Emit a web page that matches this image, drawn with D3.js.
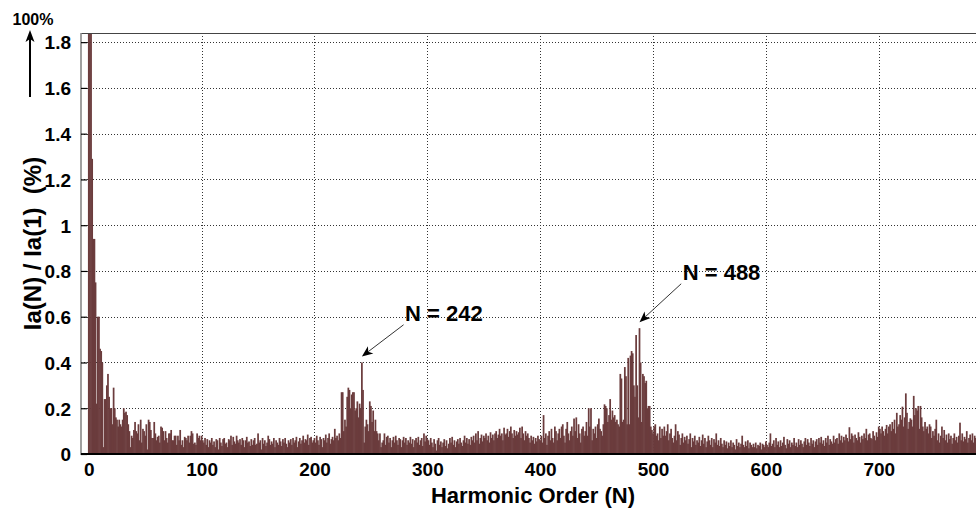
<!DOCTYPE html>
<html>
<head>
<meta charset="utf-8">
<script src="https://cdn.jsdelivr.net/npm/d3@7"></script>
<style>
  body { margin: 0; background: #fff; }
  text { font-family: "Liberation Sans", Arial, Helvetica, sans-serif; font-weight: bold; fill: #000; }
</style>
</head>
<body>
<svg id="chart" width="976" height="509"></svg>
<script>
// Harmonic spectrum of phase current Ia, in % of the fundamental, indexed by harmonic order N (0, 1, 2, ...)
const amplitude = [
  2.3, 100, 1.95, 1.29, 0.94, 0.94, 0.75, 0.22, 0.60, 0.60,
  0.46, 0.45, 0.40, 0.03, 0.24, 0.24, 0.30, 0.35, 0.25, 0.20,
  0.20, 0.13, 0.29, 0.20, 0.16, 0.15, 0.12, 0.15, 0.13, 0.12,
  0.15, 0.20, 0.18, 0.185, 0.17, 0.13, 0.10, 0.03, 0.08, 0.07,
  0.105, 0.14, 0.10, 0.09, 0.13, 0.06, 0.15, 0.05, 0.11, 0.10,
  0.08, 0.13, 0.02, 0.15, 0.14, 0.105, 0.07, 0.07, 0.14, 0.09,
  0.06, 0.075, 0.08, 0.05, 0.12, 0.115, 0.10, 0.06, 0.10, 0.07,
  0.05, 0.09, 0.09, 0.105, 0.06, 0.06, 0.08, 0.08, 0.04, 0.08,
  0.06, 0.105, 0.04, 0.06, 0.03, 0.075, 0.07, 0.06, 0.08, 0.05,
  0.08, 0.10, 0.09, 0.045, 0.05, 0.04, 0.09, 0.07, 0.08, 0.06,
  0.08, 0.06, 0.05, 0.07, 0.04, 0.065, 0.03, 0.06, 0.05, 0.07,
  0.04, 0.055, 0.03, 0.065, 0.06, 0.02, 0.07, 0.05, 0.035, 0.065,
  0.07, 0.045, 0.05, 0.03, 0.065, 0.06, 0.08, 0.04, 0.075, 0.055,
  0.045, 0.08, 0.06, 0.05, 0.065, 0.04, 0.07, 0.06, 0.03, 0.06,
  0.075, 0.05, 0.055, 0.035, 0.065, 0.04, 0.06, 0.07, 0.04, 0.045,
  0.09, 0.05, 0.06, 0.02, 0.07, 0.045, 0.06, 0.035, 0.05, 0.08,
  0.065, 0.04, 0.055, 0.045, 0.07, 0.03, 0.06, 0.05, 0.04, 0.07,
  0.055, 0.035, 0.065, 0.05, 0.07, 0.045, 0.03, 0.06, 0.05, 0.065,
  0.04, 0.07, 0.05, 0.06, 0.075, 0.03, 0.055, 0.07, 0.045, 0.06,
  0.08, 0.05, 0.065, 0.06, 0.085, 0.04, 0.07, 0.075, 0.05, 0.06,
  0.07, 0.05, 0.08, 0.06, 0.04, 0.075, 0.065, 0.03, 0.07, 0.06,
  0.085, 0.05, 0.07, 0.09, 0.045, 0.065, 0.075, 0.06, 0.11, 0.07,
  0.08, 0.06, 0.09, 0.07, 0.27, 0.27, 0.10, 0.15, 0.12, 0.25,
  0.29, 0.28, 0.20, 0.26, 0.27, 0.27, 0.19, 0.20, 0.23, 0.16,
  0.22, 0.20, 0.40, 0.28, 0.05, 0.12, 0.15, 0.13, 0.10, 0.23,
  0.21, 0.14, 0.19, 0.10, 0.15, 0.10, 0.09, 0.06, 0.09, 0.03,
  0.05, 0.06, 0.09, 0.04, 0.075, 0.08, 0.05, 0.07, 0.03, 0.06,
  0.075, 0.05, 0.08, 0.06, 0.04, 0.07, 0.065, 0.03, 0.06, 0.075,
  0.05, 0.07, 0.04, 0.06, 0.05, 0.075, 0.045, 0.065, 0.03, 0.06,
  0.07, 0.05, 0.075, 0.04, 0.06, 0.07, 0.035, 0.09, 0.055, 0.08,
  0.065, 0.06, 0.04, 0.07, 0.05, 0.03, 0.065, 0.045, 0.015, 0.06,
  0.07, 0.04, 0.055, 0.03, 0.05, 0.065, 0.035, 0.06, 0.025, 0.045,
  0.07, 0.05, 0.075, 0.04, 0.06, 0.03, 0.055, 0.065, 0.045, 0.07,
  0.05, 0.035, 0.06, 0.08, 0.05, 0.07, 0.045, 0.065, 0.04, 0.075,
  0.06, 0.08, 0.05, 0.09, 0.06, 0.10, 0.045, 0.07, 0.085, 0.055,
  0.08, 0.07, 0.09, 0.06, 0.08, 0.05, 0.095, 0.07, 0.085, 0.06,
  0.09, 0.10, 0.07, 0.085, 0.11, 0.08, 0.09, 0.06, 0.115, 0.085,
  0.09, 0.11, 0.075, 0.10, 0.12, 0.09, 0.07, 0.105, 0.08, 0.10,
  0.085, 0.095, 0.115, 0.07, 0.12, 0.09, 0.06, 0.10, 0.08, 0.09,
  0.07, 0.05, 0.08, 0.06, 0.075, 0.045, 0.07, 0.055, 0.08, 0.065,
  0.06, 0.08, 0.05, 0.17, 0.07, 0.09, 0.04, 0.08, 0.10, 0.06,
  0.11, 0.07, 0.05, 0.12, 0.10, 0.06, 0.09, 0.11, 0.07, 0.12,
  0.13, 0.08, 0.05, 0.11, 0.14, 0.09, 0.06, 0.10, 0.12, 0.08,
  0.155, 0.10, 0.16, 0.07, 0.13, 0.09, 0.05, 0.11, 0.12, 0.08,
  0.10, 0.14, 0.08, 0.20, 0.12, 0.20, 0.06, 0.11, 0.09, 0.12,
  0.07, 0.13, 0.155, 0.11, 0.10, 0.08, 0.13, 0.217, 0.21, 0.20,
  0.14, 0.17, 0.24, 0.15, 0.19, 0.16, 0.17, 0.14, 0.15, 0.13,
  0.12, 0.35, 0.33, 0.14, 0.15, 0.38, 0.34, 0.13, 0.42, 0.13,
  0.43, 0.45, 0.44, 0.30, 0.25, 0.52, 0.30, 0.16, 0.55, 0.40,
  0.14, 0.35, 0.34, 0.31, 0.32, 0.20, 0.21, 0.21, 0.12, 0.105,
  0.09, 0.12, 0.13, 0.08, 0.09, 0.06, 0.12, 0.07, 0.11, 0.08,
  0.12, 0.08, 0.10, 0.13, 0.06, 0.09, 0.11, 0.07, 0.05, 0.08,
  0.13, 0.06, 0.10, 0.085, 0.04, 0.07, 0.09, 0.05, 0.075, 0.06,
  0.08, 0.045, 0.065, 0.09, 0.03, 0.07, 0.055, 0.08, 0.04, 0.06,
  0.05, 0.075, 0.035, 0.06, 0.085, 0.045, 0.07, 0.03, 0.055, 0.08,
  0.06, 0.04, 0.07, 0.03, 0.065, 0.05, 0.09, 0.04, 0.06, 0.035,
  0.07, 0.045, 0.03, 0.06, 0.04, 0.055, 0.025, 0.05, 0.035, 0.06,
  0.03, 0.05, 0.04, 0.02, 0.065, 0.035, 0.05, 0.03, 0.045, 0.08,
  0.04, 0.03, 0.055, 0.035, 0.06, 0.025, 0.05, 0.04, 0.03, 0.045,
  0.03, 0.05, 0.025, 0.04, 0.035, 0.05, 0.02, 0.045, 0.04, 0.03,
  0.055, 0.04, 0.03, 0.05, 0.09, 0.035, 0.045, 0.06, 0.03, 0.07,
  0.04, 0.055, 0.03, 0.06, 0.035, 0.05, 0.075, 0.04, 0.025, 0.065,
  0.045, 0.06, 0.03, 0.05, 0.04, 0.07, 0.035, 0.05, 0.03, 0.065,
  0.04, 0.06, 0.045, 0.03, 0.055, 0.07, 0.04, 0.065, 0.05, 0.035,
  0.07, 0.045, 0.06, 0.03, 0.055, 0.065, 0.04, 0.07, 0.05, 0.075,
  0.045, 0.06, 0.035, 0.07, 0.05, 0.08, 0.04, 0.065, 0.055, 0.045,
  0.08, 0.05, 0.065, 0.07, 0.045, 0.09, 0.06, 0.08, 0.05, 0.075,
  0.06, 0.085, 0.07, 0.055, 0.117, 0.065, 0.09, 0.08, 0.05, 0.085,
  0.07, 0.06, 0.095, 0.075, 0.05, 0.08, 0.065, 0.09, 0.07, 0.11,
  0.06, 0.085, 0.09, 0.07, 0.065, 0.10, 0.08, 0.06, 0.095, 0.075,
  0.12, 0.11, 0.09, 0.12, 0.10, 0.08, 0.11, 0.127, 0.09, 0.12,
  0.13, 0.10, 0.14, 0.11, 0.15, 0.09, 0.18, 0.12, 0.13, 0.17,
  0.15, 0.207, 0.12, 0.16, 0.265, 0.18, 0.11, 0.14, 0.156, 0.15,
  0.12, 0.254, 0.17, 0.20, 0.19, 0.21, 0.11, 0.21, 0.16, 0.12,
  0.10, 0.14, 0.11, 0.12, 0.09, 0.13, 0.12, 0.07, 0.10, 0.08,
  0.11, 0.15, 0.06, 0.09, 0.05, 0.08, 0.12, 0.07, 0.105, 0.06,
  0.085, 0.05, 0.09, 0.065, 0.08, 0.045, 0.07, 0.09, 0.06, 0.075,
  0.05, 0.08, 0.137, 0.06, 0.09, 0.055, 0.075, 0.065, 0.10, 0.05,
  0.07, 0.085, 0.06, 0.09, 0.05, 0.08, 0.07, 0.06, 0.09, 0.065
];

const xTicks = [0, 100, 200, 300, 400, 500, 600, 700];
const yTicks = [0, 0.2, 0.4, 0.6, 0.8, 1, 1.2, 1.4, 1.6, 1.8];
const xTitle = "Harmonic Order (N)";
const yTitle = "Ia(N) / Ia(1)  (%)";
const fundamentalNote = "100%";
const peakOrders = [242, 488];
const peakLabels = ["N = 242", "N = 488"];

const svg = d3.select("#chart");
const frame = { left: 81, top: 33, bottom: 454 };

const x = d3.scaleLinear().domain([-6.9, 800]).range([frame.left, 991.6]);
const y = d3.scaleLinear().domain([0, 1.84]).range([frame.bottom, frame.top]);
const plotRight = x.range()[1];

svg.append("defs").append("clipPath").attr("id", "plot-clip")
  .append("rect")
  .attr("x", frame.left).attr("y", frame.top)
  .attr("width", plotRight - frame.left).attr("height", frame.bottom - frame.top);

// dotted grid
const grid = svg.append("g").attr("stroke", "#333").attr("stroke-width", 1)
  .attr("stroke-dasharray", "1,2");
grid.selectAll("line.h").data(yTicks.filter(d => d > 0)).join("line")
  .attr("x1", frame.left).attr("x2", plotRight)
  .attr("y1", d => Math.round(y(d)) + 0.5).attr("y2", d => Math.round(y(d)) + 0.5);
grid.selectAll("line.v").data(xTicks.filter(d => d > 0).concat([800])).join("line")
  .attr("x1", d => Math.round(x(d)) + 0.5).attr("x2", d => Math.round(x(d)) + 0.5)
  .attr("y1", frame.top).attr("y2", frame.bottom);

// spectrum bars (slightly widened so neighbouring bars leave no seams)
const barW = x(1) - x(0);
svg.append("g").attr("clip-path", "url(#plot-clip)")
  .selectAll("rect").data(amplitude).join("rect")
  .attr("x", (d, i) => x(i) - barW / 2 - 0.3)
  .attr("width", barW + 0.6)
  .attr("y", d => y(Math.min(d, 1.9)))
  .attr("height", d => y(0) - y(Math.min(d, 1.9)))
  .attr("fill", "#6b3c3d");

// axes frame
svg.append("line").attr("x1", frame.left).attr("x2", plotRight)
  .attr("y1", frame.top + 0.5).attr("y2", frame.top + 0.5)
  .attr("stroke", "#444").attr("stroke-width", 1);
svg.append("line").attr("x1", frame.left).attr("x2", frame.left)
  .attr("y1", frame.top).attr("y2", frame.bottom + 1)
  .attr("stroke", "#888").attr("stroke-width", 1.6);
svg.append("line").attr("x1", frame.left).attr("x2", plotRight)
  .attr("y1", frame.bottom).attr("y2", frame.bottom)
  .attr("stroke", "#000").attr("stroke-width", 2);

// y axis: inward ticks and labels
const yAxis = svg.append("g").attr("transform", `translate(${frame.left},0)`)
  .call(d3.axisLeft(y).tickValues(yTicks).tickSize(-6).tickPadding(10)
    .tickFormat(d => d3.format("~g")(d)));
yAxis.select(".domain").remove();
yAxis.selectAll(".tick line").attr("stroke", "#000").attr("stroke-width", 1.2);
yAxis.selectAll(".tick text").style("font-size", "19px").attr("dy", "0.36em");

// x axis labels
const xAxis = svg.append("g").attr("transform", `translate(0,${frame.bottom})`)
  .call(d3.axisBottom(x).tickValues(xTicks).tickSize(0).tickPadding(9));
xAxis.select(".domain").remove();
xAxis.selectAll(".tick text").style("font-size", "19px");

// axis titles
svg.append("text")
  .attr("x", 533).attr("y", 503)
  .attr("text-anchor", "middle").style("font-size", "22px").text(xTitle);
svg.append("text")
  .attr("transform", `translate(41,${(frame.top + frame.bottom) / 2}) rotate(-90)`)
  .attr("text-anchor", "middle").style("font-size", "24px")
  .style("white-space", "pre").text(yTitle);

// fundamental off-scale marker
svg.append("text").attr("x", 33).attr("y", 25).attr("text-anchor", "middle")
  .style("font-size", "16px").text(fundamentalNote);
svg.append("line").attr("x1", 30).attr("x2", 30).attr("y1", 97).attr("y2", 38)
  .attr("stroke", "#000").attr("stroke-width", 2);
svg.append("path").attr("d", "M30,30 L25.5,42 L30,39 L34.5,42 Z").attr("fill", "#000");

// peak annotations
const arrowLen = 11, arrowHalf = 4.5, notch = 3;
peakOrders.forEach((n, k) => {
  const tip = [x(n), y(amplitude[n]) - 6];
  const tail = [tip[0] + 41.7, tip[1] - (k === 0 ? 31.7 : 38.4)];
  const dx = tip[0] - tail[0], dy = tip[1] - tail[1];
  const len = Math.hypot(dx, dy), ux = dx / len, uy = dy / len;
  const bx = tip[0] - ux * arrowLen, by = tip[1] - uy * arrowLen;
  const nx = tip[0] - ux * (arrowLen - notch), ny = tip[1] - uy * (arrowLen - notch);
  svg.append("line").attr("x1", tail[0]).attr("y1", tail[1]).attr("x2", nx).attr("y2", ny)
    .attr("stroke", "#333").attr("stroke-width", 1);
  svg.append("path")
    .attr("d", `M${tip[0]},${tip[1]} L${bx - uy * arrowHalf},${by + ux * arrowHalf} L${nx},${ny} L${bx + uy * arrowHalf},${by - ux * arrowHalf} Z`)
    .attr("fill", "#000");
  svg.append("text").attr("x", tail[0] + 1.5).attr("y", tail[1] - 3.5)
    .style("font-size", "22px").text(peakLabels[k]);
});
</script>
</body>
</html>
